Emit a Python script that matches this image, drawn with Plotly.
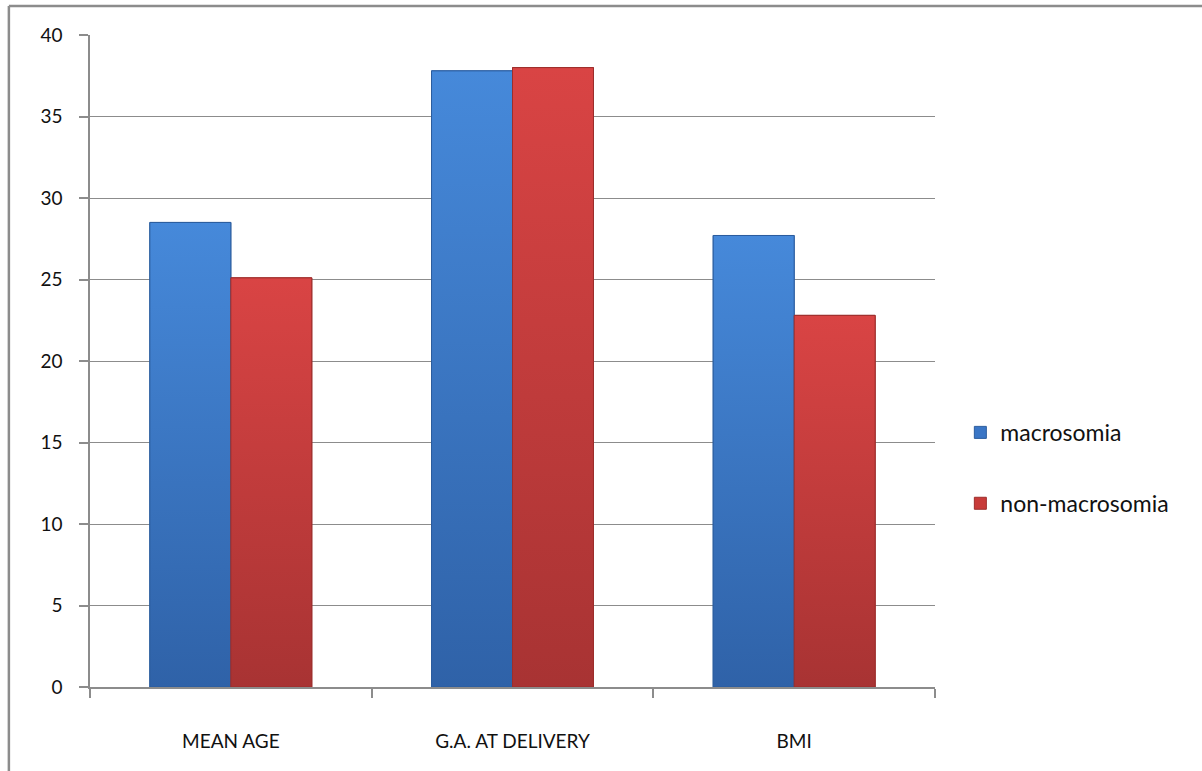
import plotly.graph_objects as go

categories = ["MEAN AGE", "G.A. AT DELIVERY", "BMI"]
macrosomia = [28.5, 37.8, 27.7]
non_macrosomia = [25.1, 38.0, 22.8]
y_ticks = [0, 5, 10, 15, 20, 25, 30, 35, 40]

FONT = "Lato"
GRID = "#8c8c8c"
BARGAP = 0.425
HALF = (1 - BARGAP) / 2  # width of one bar in category units

series = [
    ("macrosomia", macrosomia, "#3a76c6", "#2c5d9e", ("#2f62a8", "#4689da"), -1),
    ("non-macrosomia", non_macrosomia, "#c83b39", "#9c2e2c", ("#a83333", "#d94444"), 0),
]

fig = go.Figure()
for name, vals, color, edge, grad, side in series:
    fig.add_trace(go.Bar(
        x=categories, y=vals, name=name,
        marker=dict(color=color, line=dict(color=edge, width=1)),
        legendgroup=name,
    ))

# shaded faces drawn over each bar on a matching numeric overlay axis
for name, vals, color, edge, grad, side in series:
    for i, v in enumerate(vals):
        x0 = i + side * HALF
        x1 = x0 + HALF
        fig.add_trace(go.Scatter(
            x=[x0, x1, x1, x0, x0], y=[0, 0, v, v, 0],
            xaxis="x2", mode="lines", fill="toself",
            line=dict(color=edge, width=1),
            fillgradient=dict(type="vertical",
                              colorscale=[[0, grad[0]], [1, grad[1]]]),
            showlegend=False, hoverinfo="skip",
        ))

fig.update_layout(
    width=1202, height=771,
    margin=dict(l=90, r=267, t=35, b=84),
    paper_bgcolor="white", plot_bgcolor="white",
    barmode="group", bargap=BARGAP, bargroupgap=0,
    font=dict(family=FONT, size=19, color="#111111"),
    showlegend=True,
    legend=dict(
        x=1.03, y=0.336, xanchor="left", yanchor="middle",
        tracegroupgap=38, font=dict(size=23, family=FONT),
        bgcolor="rgba(0,0,0,0)",
    ),
    xaxis=dict(
        showline=True, linecolor=GRID, linewidth=1.5,
        ticks="outside", tickson="boundaries", ticklen=9, tickcolor=GRID,
        tickwidth=1.5, ticklabelstandoff=36, showgrid=False,
    ),
    xaxis2=dict(
        overlaying="x", range=[-0.5, len(categories) - 0.5], visible=False,
    ),
    yaxis=dict(
        range=[0, 40], tickvals=y_ticks, showline=True, linecolor=GRID,
        linewidth=1.5, ticks="outside", ticklen=9, tickcolor=GRID, tickwidth=1.5,
        showgrid=True, gridcolor=GRID, gridwidth=1, zeroline=False,
        ticklabelstandoff=13,
    ),
    shapes=[
        dict(type="line", xref="paper", yref="paper", x0=-0.096, x1=1.5,
             y0=1.0445, y1=1.0445, line=dict(color=GRID, width=2.5)),
        dict(type="line", xref="paper", yref="paper", x0=-0.096, x1=-0.096,
             y0=1.0445, y1=-0.3, line=dict(color=GRID, width=2.5)),
    ],
)

fig.write_html("out.html")
